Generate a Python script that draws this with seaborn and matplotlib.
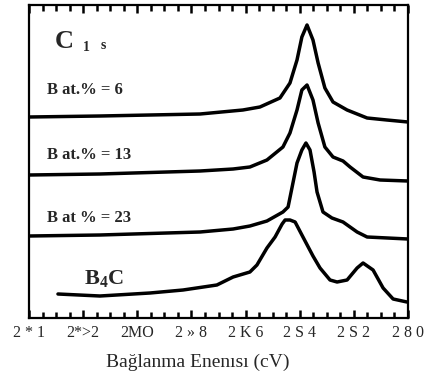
import numpy as np
import pandas as pd
import matplotlib
matplotlib.use("Agg")
import matplotlib.pyplot as plt
from matplotlib.ticker import FixedLocator, MultipleLocator
import seaborn as sns

# C 1s spectra, binding energy (eV) and intensity above each trace's baseline (a.u.)
energy_b6 = [294.00, 291.38, 287.68, 286.10, 285.47, 284.73, 284.36, 284.10, 283.92,
             283.73, 283.51, 283.32, 283.07, 282.77, 282.25, 281.51, 280.78, 280.00]
counts_b6 = [5, 6, 8, 12, 15, 24, 39, 62, 85, 97, 82, 59, 34, 20, 12, 4, 2, 0]

energy_b13 = [294.00, 291.38, 287.68, 286.46, 285.84, 285.21, 284.62, 284.36, 284.10, 283.92,
              283.73, 283.51, 283.32, 283.07, 282.77, 282.40, 282.14, 281.66, 281.03, 280.00]
counts_b13 = [6, 7, 10, 12, 14, 21, 34, 48, 71, 91, 96, 81, 58, 34, 24, 20, 14, 4, 1, 0]

energy_b23 = [294.00, 291.38, 287.68, 286.46, 285.84, 285.21, 284.62, 284.43, 284.28, 284.10,
              283.92, 283.77, 283.62, 283.47, 283.36, 283.14, 282.81, 282.40, 281.88, 281.51, 280.00]
counts_b23 = [3, 4, 7, 10, 13, 18, 27, 32, 52, 76, 89, 96, 89, 67, 47, 27, 21, 17, 7, 2, 0]

energy_b4c = [292.93, 291.38, 289.53, 288.31, 287.06, 286.46, 285.84, 285.58, 285.21, 284.91,
              284.65, 284.54, 284.36, 284.17, 283.88, 283.51, 283.25, 282.88, 282.62, 282.25,
              281.88, 281.66, 281.29, 280.92, 280.55, 280.04]
counts_b4c = [8, 6, 9, 12, 17, 25, 30, 37, 54, 65, 78, 82, 82, 80, 65, 46, 34, 22, 20, 22,
              34, 39, 32, 14, 3, 0]

# vertical stacking offsets of the four traces (a.u.)
offsets = [196, 137, 79, 16]

tick_energies = [294, 292, 290, 288, 286, 284, 282, 280]
tick_labels = ["2 * 1", "2*>2", "2MO", "2 » 8", "2 K 6", "2 S 4", "2 S 2", "2 8 0"]

trace_labels = ["B at.% = 6", "B at.% = 13", "B at % = 23"]
x_label = "Bağlanma Enenısı (cV)"

sns.set_style("ticks")
plt.rcParams.update({
    "font.family": ["Liberation Serif", "DejaVu Serif"],
    "mathtext.fontset": "custom",
    "mathtext.bf": "Liberation Serif:bold",
    "mathtext.rm": "Liberation Serif",
})

fig = plt.figure(figsize=(4.30, 3.76), dpi=100)
ax = fig.add_axes([29 / 430, 58 / 376, 379 / 430, 313 / 376])

series = [(energy_b6, counts_b6), (energy_b13, counts_b13),
          (energy_b23, counts_b23), (energy_b4c, counts_b4c)]
for (e, c), off in zip(series, offsets):
    df = pd.DataFrame({"energy": e, "intensity": np.array(c) + off})
    sns.lineplot(data=df, x="energy", y="intensity", ax=ax, color="black",
                 linewidth=2.5, sort=False, solid_joinstyle="round",
                 solid_capstyle="round")

ax.set_xlim(294, 280)
ax.set_ylim(0, 313)
ax.xaxis.set_major_locator(FixedLocator(tick_energies))
ax.xaxis.set_minor_locator(MultipleLocator(0.5))
ax.set_xticklabels(tick_labels, fontsize=11.5)
ax.yaxis.set_major_locator(FixedLocator([]))
ax.set_xlabel("")
ax.set_ylabel("")
ax.tick_params(axis="x", which="major", direction="in", length=6, width=1.8,
               color="black", top=True, bottom=True, pad=5)
ax.tick_params(axis="x", which="minor", direction="in", length=4, width=1.8,
               color="black", top=True, bottom=True)
for s in ax.spines.values():
    s.set_visible(True)
    s.set_color("black")
    s.set_linewidth(1.6)

# trace annotations
label_y = [228, 163, 100]
for txt, y in zip(trace_labels, label_y):
    ax.text(293.35, y, txt, fontsize=12, fontweight="bold", va="center", ha="left")
ax.text(291.95, 39, r"B$_{\mathbf{4}}$C", fontsize=16, fontweight="bold",
        va="center", ha="left")
ax.text(293.05, 276, "C", fontsize=19, fontweight="bold", va="center", ha="left")
ax.text(292.0, 270, "1", fontsize=10, fontweight="bold", va="center", ha="left")
ax.text(291.35, 272, "s", fontsize=10, fontweight="bold", va="center", ha="left")

fig.text(198 / 430, 1 - 362 / 376, x_label, fontsize=14, ha="center", va="center")

fig.savefig("out.png", dpi=100, facecolor="white")
